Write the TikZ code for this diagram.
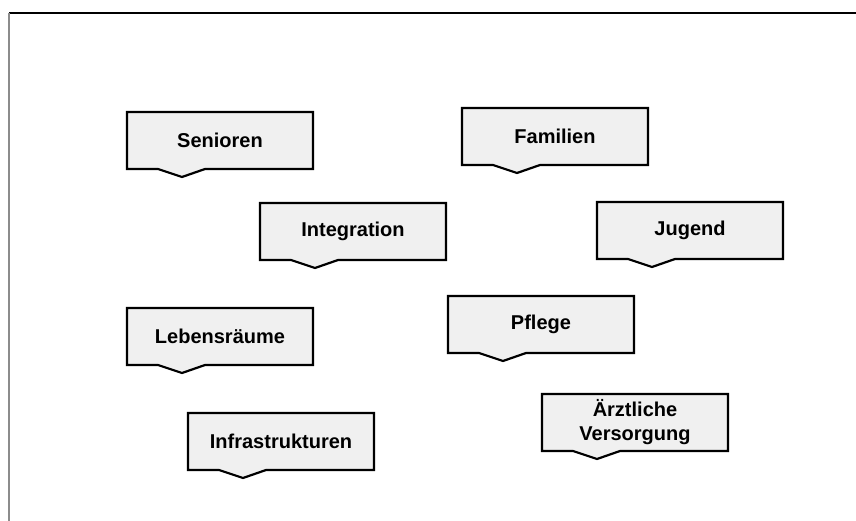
\documentclass[tikz,border=0pt]{standalone}
\usepackage{fontspec}
\setmainfont{Liberation Sans}
\usetikzlibrary{backgrounds}

\definecolor{tagfill}{HTML}{F0F0F0}
\definecolor{framegray}{HTML}{8C8C8C}

\begin{document}
\begin{tikzpicture}[x=1pt, y=-1pt,
  tag/.style={font=\bfseries\fontsize{20}{24}\selectfont, minimum width=186pt,
    minimum height=57pt, inner sep=0pt, outer sep=0pt, anchor=north west, align=center},
  tagline/.style={draw=black, line width=2.2pt, fill=tagfill, line join=miter}]
	\useasboundingbox (0, 0) rectangle (856, 521);
	% frame
	\draw[line width=1.5pt] (9, 13) -- (856, 13);
	\draw[framegray, line width=2pt] (9, 13) -- (9, 521);
	% topics
	\node[tag] (senioren) at (127, 112) {Senioren};
	\node[tag] (familien) at (462, 108) {Familien};
	\node[tag] (integration) at (260, 203) {Integration};
	\node[tag] (jugend) at (597, 202) {Jugend};
	\node[tag] (lebensraeume) at (127, 308) {Lebensräume};
	\node[tag] (pflege) at (448, 296) {Pflege};
	\node[tag] (infrastruktur) at (188, 413) {Infrastrukturen};
	\node[tag] (aerzte) at (542, 394) {Ärztliche\\Versorgung};
	% boxes with notch
	\begin{scope}[on background layer]
		\foreach \n in {senioren, familien, integration, jugend, lebensraeume, pflege, infrastruktur, aerzte}
			\filldraw[tagline] (\n.north west) -- (\n.north east) -- (\n.south east)
				-- ([xshift=78pt]\n.south west) -- ([xshift=55pt, yshift=-8pt]\n.south west)
				-- ([xshift=31pt]\n.south west) -- (\n.south west) -- cycle;
	\end{scope}
\end{tikzpicture}
\end{document}
